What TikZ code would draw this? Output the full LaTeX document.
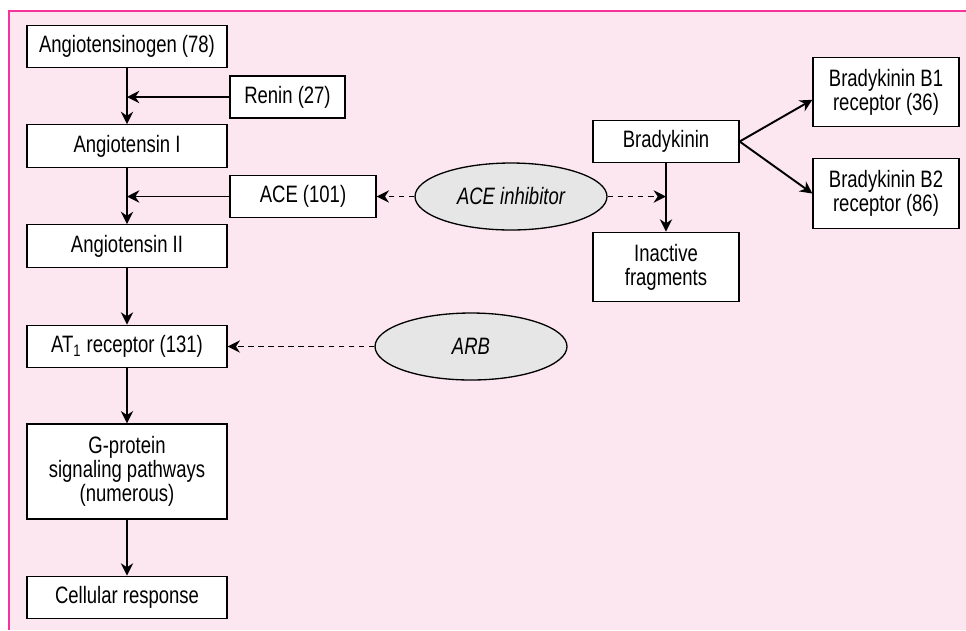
\documentclass[tikz,border=0pt]{standalone}
\usepackage{fontspec}
\setmainfont{Liberation Sans}[FakeStretch=0.78]
\usepackage{xcolor}
\usepackage{tikz}
\usetikzlibrary{arrows.meta,positioning,calc,shapes.geometric}

\definecolor{panelpink}{HTML}{FCE6EF}
\definecolor{framepink}{HTML}{F5339A}
\definecolor{drugfill}{HTML}{E6E6E6}

\begin{document}
\begin{tikzpicture}[
  x=0.02cm, y=-0.02cm,
  >={Stealth[length=7pt,width=7pt]},
  font=\fontsize{13.5}{13.8}\selectfont,
  box/.style={draw=black, fill=white, line width=0.75pt, align=center, inner sep=2pt},
  mainbox/.style={box, minimum width=4cm, minimum height=0.85cm},
  sidebox/.style={box, minimum width=2.92cm, minimum height=0.85cm},
  tallbox/.style={box, minimum width=2.92cm, minimum height=1.39cm},
  drug/.style={ellipse, draw=black, fill=drugfill, line width=0.75pt, inner sep=0pt,
    minimum width=3.84cm, minimum height=1.34cm, font=\fontsize{13.5}{13.8}\selectfont\itshape},
  flow/.style={->, line width=1.1pt, black},
  block/.style={->, line width=1.1pt, black, dash pattern=on 3.3pt off 2.4pt}
]

% Hintergrund und Rahmen
\useasboundingbox (0,0) rectangle (966,630);
\fill[white] (0,0) rectangle (966,630);
\fill[panelpink] (9,11) rectangle (966,630);
\draw[framepink, line width=0.7pt] (9,630) -- (9,11) -- (966,11);

% Linke Kette
\node[mainbox] (ang)   at (127,46.5)  {Angiotensinogen (78)};
\node[mainbox] (angI)  at (127,146)   {Angiotensin I};
\node[mainbox] (angII) at (127,246)   {Angiotensin II};
\node[mainbox] (at1)   at (127,346.5) {AT\textsubscript{1} receptor (131)};
\node[mainbox, minimum height=1.9cm] (gprot) at (127,471.5) {G-protein\\signaling pathways\\(numerous)};
\node[mainbox] (cell)  at (127,597.5) {Cellular response};

% Enzyme
\node[box, minimum width=2.3cm, minimum height=0.84cm] (renin) at (287.5,97) {Renin (27)};
\node[sidebox] (ace) at (303,196.5) {ACE (101)};

% Hemmstoffe
\node[drug] (acei) at (511,196.5) {ACE inhibitor};
\node[drug] (arb)  at (471,346.5) {ARB};

% Bradykinin-Zweig
\node[sidebox] (brady) at (666,141.5) {Bradykinin};
\node[tallbox] (inact) at (666,267)   {Inactive\\fragments};
\node[tallbox] (bone)  at (886,92)    {Bradykinin B1\\receptor (36)};
\node[tallbox] (btwo)  at (886,193.5) {Bradykinin B2\\receptor (86)};

% Pfeile
\draw[flow] (ang.south) -- (angI.north);
\draw[flow] (renin.west) -- (ang.south |- renin.west);
\draw[flow] (angI.south) -- (angII.north);
\draw[flow] (ace.west) -- (angI.south |- ace.west);
\draw[flow] (angII.south) -- (at1.north);
\draw[flow] (at1.south) -- (gprot.north);
\draw[flow] (gprot.south) -- (cell.north);

\draw[flow] (brady.south) -- (inact.north);
\draw[flow] (brady.east) -- (bone.186);
\draw[flow] (brady.east) -- (btwo.west);

\draw[block] (acei.west) -- (ace.east);
\draw[block] (acei.east) -- (brady.south |- acei.east);
\draw[block] (arb.west) -- (at1.east);

\end{tikzpicture}
\end{document}
